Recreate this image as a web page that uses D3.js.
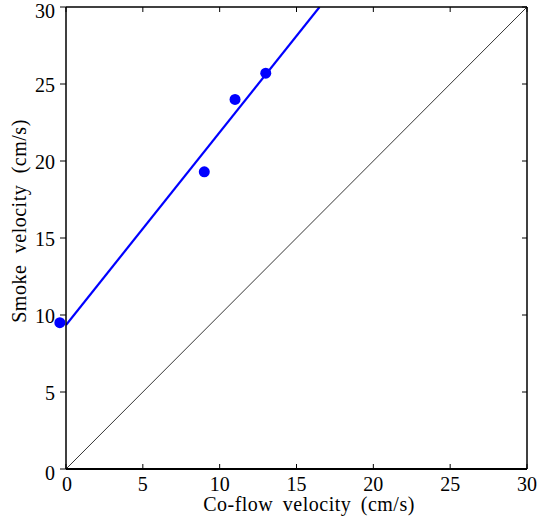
<!DOCTYPE html>
<html>
<head>
  <meta charset="utf-8">
  <style>
    body { margin: 0; background: #fff; }
    text { font-family: "Liberation Serif", "DejaVu Serif", serif; }
  </style>
  <title>Smoke velocity vs co-flow velocity</title>
</head>
<body>
  <script src="https://cdn.jsdelivr.net/npm/d3@7/dist/d3.min.js"></script>
  <script>
    // measured points
    var coflow = [-0.4, 9.0, 11.0, 13.0];
    var smoke = [9.5, 19.3, 24.0, 25.7];
    // fitted line, two ends
    var fitX = [0, 16.5];
    var fitY = [9.35, 30];
    // 1:1 reference line
    var refX = [0, 30];
    var refY = [0, 30];
    var ticks = [0, 5, 10, 15, 20, 25, 30];

    var width = 543, height = 520;
    var mLeft = 66, mRight = 527, mTop = 7, mBottom = 469;

    var svg = d3.select("body").append("svg").attr("width", width).attr("height", height);

    var x = d3.scaleLinear().domain([0, 30]).range([mLeft, mRight]);
    var y = d3.scaleLinear().domain([0, 30]).range([mBottom, mTop]);

    svg.append("clipPath").attr("id", "clip")
      .append("rect").attr("x", mLeft).attr("y", mTop).attr("width", mRight - mLeft).attr("height", mBottom - mTop);

    var line = d3.line().x(function(d) { return x(d[0]); }).y(function(d) { return y(d[1]); });

    svg.append("path").datum(d3.zip(refX, refY)).attr("d", line)
      .attr("fill", "none").attr("stroke", "#000").attr("stroke-width", 0.8);

    svg.append("path").datum(d3.zip(fitX, fitY)).attr("d", line)
      .attr("clip-path", "url(#clip)")
      .attr("fill", "none").attr("stroke", "#0000ff").attr("stroke-width", 2.2);

    // frame and ticks
    var ax = svg.append("g").attr("stroke", "#000");
    ticks.forEach(function(t) {
      ax.append("line").attr("x1", x(t)).attr("x2", x(t)).attr("y1", mBottom).attr("y2", mBottom - 5);
      ax.append("line").attr("x1", x(t)).attr("x2", x(t)).attr("y1", mTop).attr("y2", mTop + 5);
      ax.append("line").attr("y1", y(t)).attr("y2", y(t)).attr("x1", mLeft - 6).attr("x2", mLeft);
      ax.append("line").attr("y1", y(t)).attr("y2", y(t)).attr("x1", mRight - 5).attr("x2", mRight);
    });
    ax.append("line").attr("x1", mLeft).attr("x2", mLeft).attr("y1", mTop).attr("y2", mBottom).attr("stroke-width", 1.5);
    ax.append("line").attr("x1", mRight).attr("x2", mRight).attr("y1", mTop).attr("y2", mBottom).attr("stroke-width", 1.5);
    ax.append("line").attr("x1", mLeft).attr("x2", mRight).attr("y1", mTop).attr("y2", mTop).attr("stroke-width", 1.5);
    ax.append("line").attr("x1", mLeft).attr("x2", mRight).attr("y1", mBottom).attr("y2", mBottom).attr("stroke-width", 2);

    svg.selectAll("circle").data(d3.zip(coflow, smoke)).enter().append("circle")
      .attr("cx", function(d) { return x(d[0]); })
      .attr("cy", function(d) { return y(d[1]); })
      .attr("r", 5.5).attr("fill", "#0000ff");

    svg.append("g").selectAll("text").data(ticks).enter().append("text")
      .attr("x", function(d) { return x(d) + (d === 0 ? 1 : 0); })
      .attr("y", mBottom + 22).attr("text-anchor", "middle").attr("font-size", 20)
      .text(function(d) { return d; });

    svg.append("g").selectAll("text").data(ticks).enter().append("text")
      .attr("x", mLeft - 11).attr("y", function(d) { return y(d) + ((d === 0 || d === 30) ? 11 : 8); })
      .attr("text-anchor", "end").attr("font-size", 20)
      .text(function(d) { return d; });

    svg.append("text").attr("x", 309).attr("y", 511)
      .attr("text-anchor", "middle").attr("font-size", 20)
      .attr("letter-spacing", 0.5).attr("word-spacing", 4)
      .text("Co-flow velocity (cm/s)");
    svg.append("text").attr("transform", "translate(26,221) rotate(-90)")
      .attr("text-anchor", "middle").attr("font-size", 20)
      .attr("letter-spacing", 0.5).attr("word-spacing", 6)
      .text("Smoke velocity (cm/s)");
  </script>
</body>
</html>
